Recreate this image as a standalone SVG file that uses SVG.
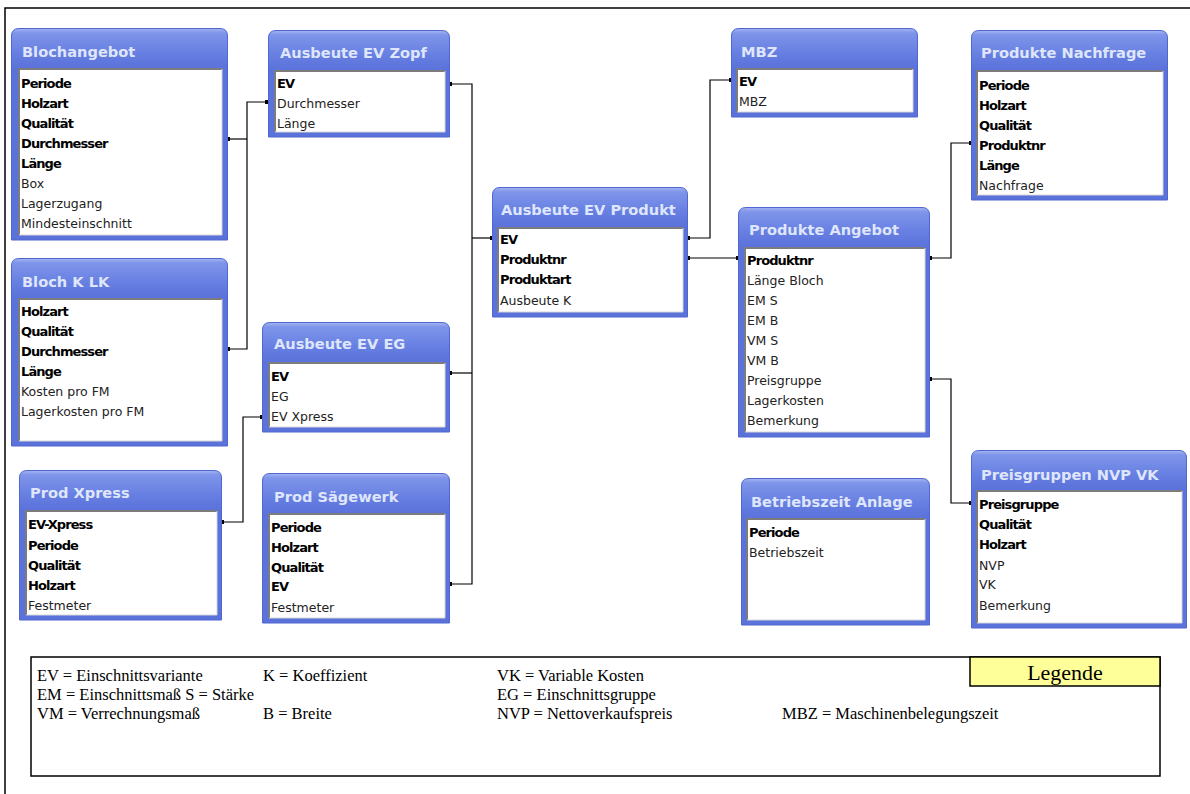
<svg xmlns="http://www.w3.org/2000/svg" width="1190" height="794" viewBox="0 0 1190 794">
  <defs>
    <linearGradient id="bar" gradientUnits="userSpaceOnUse" x1="0" y1="0" x2="0" y2="40">
      <stop offset="0" stop-color="#a9b9f3"/>
      <stop offset="0.12" stop-color="#7f95ea"/>
      <stop offset="0.6" stop-color="#6880e2"/>
      <stop offset="1" stop-color="#5a72da"/>
    </linearGradient>
    <marker id="dot" viewBox="0 0 4 4" refX="2" refY="2" markerWidth="4" markerHeight="4" markerUnits="userSpaceOnUse">
      <rect x="0" y="0" width="4" height="4" fill="#000"/>
    </marker>
  </defs>
  <style>
    .frame { fill: url(#bar); stroke: #4f67cf; stroke-width: 1; }
    .well { fill: #fff; }
    .shade { fill: none; stroke: #7c7c7c; stroke-width: 2; }
    .lite { fill: none; stroke: #d6d6d6; stroke-width: 1; }
    .title { font-family: "DejaVu Sans", Verdana, sans-serif; font-weight: bold; font-size: 14.6px; fill: #dfe6fb; }
    .k { font-family: "DejaVu Sans", Tahoma, sans-serif; font-weight: bold; font-size: 13px; letter-spacing: -0.9px; fill: #000; }
    .f { font-family: "DejaVu Sans", Tahoma, sans-serif; font-size: 12.5px; fill: #222; }
    .link { fill: none; stroke: #000; stroke-width: 1.2; }
    .legend { font-family: "Liberation Serif", "Times New Roman", serif; font-size: 16.5px; fill: #000; }
  </style>

  <!-- page border -->
  <path d="M5,794 V8 H1190" fill="none" stroke="#000" stroke-width="1.5"/>

  <!-- relationship lines -->
  <g id="connectors">
    <path class="link" d="M267,102 H247 V349 H228" marker-start="url(#dot)" marker-end="url(#dot)"/>
    <path class="link" d="M228,139 H247" marker-start="url(#dot)"/>
    <path class="link" d="M450,84 H472 V584 H450" marker-start="url(#dot)" marker-end="url(#dot)"/>
    <path class="link" d="M450,373 H472" marker-start="url(#dot)"/>
    <path class="link" d="M472,238 H492" marker-end="url(#dot)"/>
    <path class="link" d="M262,417 H243 V522 H222" marker-start="url(#dot)" marker-end="url(#dot)"/>
    <path class="link" d="M688,238 H710 V80 H731" marker-start="url(#dot)" marker-end="url(#dot)"/>
    <path class="link" d="M688,258 H738" marker-start="url(#dot)" marker-end="url(#dot)"/>
    <path class="link" d="M930,258 H951 V143 H971" marker-start="url(#dot)" marker-end="url(#dot)"/>
    <path class="link" d="M930,379 H951 V503 H971" marker-start="url(#dot)" marker-end="url(#dot)"/>
  </g>

  <!-- Blochangebot -->
  <g id="blochangebot" transform="translate(11,28)">
    <path class="frame" d="M0.5,212 V8 Q0.5,0.5 8,0.5 H209 Q216.5,0.5 216.5,8 V212 Z"/>
    <rect class="well" x="8" y="40" width="203" height="167"/>
    <path class="shade" d="M8,207 V41 H211"/>
    <path class="lite" d="M211,41 V207 H8"/>
    <text class="title" x="11" y="29">Blochangebot</text>
    <text class="k" x="10" y="60">Periode</text>
    <text class="k" x="10" y="80">Holzart</text>
    <text class="k" x="10" y="100">Qualität</text>
    <text class="k" x="10" y="120">Durchmesser</text>
    <text class="k" x="10" y="140">Länge</text>
    <text class="f" x="10" y="160">Box</text>
    <text class="f" x="10" y="180">Lagerzugang</text>
    <text class="f" x="10" y="200">Mindesteinschnitt</text>
  </g>

  <!-- Ausbeute EV Zopf -->
  <g id="ausbeute-ev-zopf" transform="translate(268,30)">
    <path class="frame" d="M0.5,107 V8 Q0.5,0.5 8,0.5 H174 Q181.5,0.5 181.5,8 V107 Z"/>
    <rect class="well" x="7" y="40" width="170" height="62"/>
    <path class="shade" d="M7,102 V41 H177"/>
    <path class="lite" d="M177,41 V102 H7"/>
    <text class="title" x="12" y="28">Ausbeute EV Zopf</text>
    <text class="k" x="9" y="58">EV</text>
    <text class="f" x="9" y="78">Durchmesser</text>
    <text class="f" x="9" y="98">Länge</text>
  </g>

  <!-- Bloch K LK -->
  <g id="bloch-k-lk" transform="translate(11,258)">
    <path class="frame" d="M0.5,188 V8 Q0.5,0.5 8,0.5 H209 Q216.5,0.5 216.5,8 V188 Z"/>
    <rect class="well" x="8" y="40" width="203" height="143"/>
    <path class="shade" d="M8,183 V41 H211"/>
    <path class="lite" d="M211,41 V183 H8"/>
    <text class="title" x="11" y="29">Bloch K LK</text>
    <text class="k" x="10" y="58">Holzart</text>
    <text class="k" x="10" y="78">Qualität</text>
    <text class="k" x="10" y="98">Durchmesser</text>
    <text class="k" x="10" y="118">Länge</text>
    <text class="f" x="10" y="138">Kosten pro FM</text>
    <text class="f" x="10" y="158">Lagerkosten pro FM</text>
  </g>

  <!-- Ausbeute EV EG -->
  <g id="ausbeute-ev-eg" transform="translate(262,322)">
    <path class="frame" d="M0.5,110 V8 Q0.5,0.5 8,0.5 H180 Q187.5,0.5 187.5,8 V110 Z"/>
    <rect class="well" x="7" y="40" width="176" height="65"/>
    <path class="shade" d="M7,105 V41 H183"/>
    <path class="lite" d="M183,41 V105 H7"/>
    <text class="title" x="12" y="27">Ausbeute EV EG</text>
    <text class="k" x="9" y="59">EV</text>
    <text class="f" x="9" y="79">EG</text>
    <text class="f" x="9" y="99">EV Xpress</text>
  </g>

  <!-- Prod Xpress -->
  <g id="prod-xpress" transform="translate(19,470)">
    <path class="frame" d="M0.5,150 V8 Q0.5,0.5 8,0.5 H195 Q202.5,0.5 202.5,8 V150 Z"/>
    <rect class="well" x="7" y="40" width="191" height="105"/>
    <path class="shade" d="M7,145 V41 H198"/>
    <path class="lite" d="M198,41 V145 H7"/>
    <text class="title" x="11" y="28">Prod Xpress</text>
    <text class="k" x="9" y="59">EV-Xpress</text>
    <text class="k" x="9" y="80">Periode</text>
    <text class="k" x="9" y="100">Qualität</text>
    <text class="k" x="9" y="120">Holzart</text>
    <text class="f" x="9" y="140">Festmeter</text>
  </g>

  <!-- Prod Sägewerk -->
  <g id="prod-saegewerk" transform="translate(262,473)">
    <path class="frame" d="M0.5,150 V8 Q0.5,0.5 8,0.5 H180 Q187.5,0.5 187.5,8 V150 Z"/>
    <rect class="well" x="7" y="40" width="176" height="105"/>
    <path class="shade" d="M7,145 V41 H183"/>
    <path class="lite" d="M183,41 V145 H7"/>
    <text class="title" x="12" y="29">Prod Sägewerk</text>
    <text class="k" x="9" y="59">Periode</text>
    <text class="k" x="9" y="79">Holzart</text>
    <text class="k" x="9" y="99">Qualität</text>
    <text class="k" x="9" y="118">EV</text>
    <text class="f" x="9" y="139">Festmeter</text>
  </g>

  <!-- Ausbeute EV Produkt -->
  <g id="ausbeute-ev-produkt" transform="translate(492,187)">
    <path class="frame" d="M0.5,130 V8 Q0.5,0.5 8,0.5 H188 Q195.5,0.5 195.5,8 V130 Z"/>
    <rect class="well" x="6" y="40" width="185" height="85"/>
    <path class="shade" d="M6,125 V41 H191"/>
    <path class="lite" d="M191,41 V125 H6"/>
    <text class="title" x="9" y="28">Ausbeute EV Produkt</text>
    <text class="k" x="8" y="57">EV</text>
    <text class="k" x="8" y="77">Produktnr</text>
    <text class="k" x="8" y="97">Produktart</text>
    <text class="f" x="8" y="118">Ausbeute K</text>
  </g>

  <!-- MBZ -->
  <g id="mbz" transform="translate(731,28)">
    <path class="frame" d="M0.5,89 V8 Q0.5,0.5 8,0.5 H179 Q186.5,0.5 186.5,8 V89 Z"/>
    <rect class="well" x="6" y="40" width="176" height="44"/>
    <path class="shade" d="M6,84 V41 H182"/>
    <path class="lite" d="M182,41 V84 H6"/>
    <text class="title" x="10" y="29">MBZ</text>
    <text class="k" x="8" y="58">EV</text>
    <text class="f" x="8" y="78">MBZ</text>
  </g>

  <!-- Produkte Angebot -->
  <g id="produkte-angebot" transform="translate(738,207)">
    <path class="frame" d="M0.5,230 V8 Q0.5,0.5 8,0.5 H184 Q191.5,0.5 191.5,8 V230 Z"/>
    <rect class="well" x="7" y="40" width="180" height="185"/>
    <path class="shade" d="M7,225 V41 H187"/>
    <path class="lite" d="M187,41 V225 H7"/>
    <text class="title" x="11" y="28">Produkte Angebot</text>
    <text class="k" x="9" y="58">Produktnr</text>
    <text class="f" x="9" y="78">Länge Bloch</text>
    <text class="f" x="9" y="98">EM S</text>
    <text class="f" x="9" y="118">EM B</text>
    <text class="f" x="9" y="138">VM S</text>
    <text class="f" x="9" y="158">VM B</text>
    <text class="f" x="9" y="178">Preisgruppe</text>
    <text class="f" x="9" y="198">Lagerkosten</text>
    <text class="f" x="9" y="218">Bemerkung</text>
  </g>

  <!-- Produkte Nachfrage -->
  <g id="produkte-nachfrage" transform="translate(971,30)">
    <path class="frame" d="M0.5,170 V8 Q0.5,0.5 8,0.5 H189 Q196.5,0.5 196.5,8 V170 Z"/>
    <rect class="well" x="6" y="40" width="186" height="125"/>
    <path class="shade" d="M6,165 V41 H192"/>
    <path class="lite" d="M192,41 V165 H6"/>
    <text class="title" x="10" y="28">Produkte Nachfrage</text>
    <text class="k" x="8" y="60">Periode</text>
    <text class="k" x="8" y="80">Holzart</text>
    <text class="k" x="8" y="100">Qualität</text>
    <text class="k" x="8" y="120">Produktnr</text>
    <text class="k" x="8" y="140">Länge</text>
    <text class="f" x="8" y="160">Nachfrage</text>
  </g>

  <!-- Betriebszeit Anlage -->
  <g id="betriebszeit-anlage" transform="translate(741,478)">
    <path class="frame" d="M0.5,147 V8 Q0.5,0.5 8,0.5 H181 Q188.5,0.5 188.5,8 V147 Z"/>
    <rect class="well" x="6" y="40" width="178" height="102"/>
    <path class="shade" d="M6,142 V41 H184"/>
    <path class="lite" d="M184,41 V142 H6"/>
    <text class="title" x="10" y="29">Betriebszeit Anlage</text>
    <text class="k" x="8" y="59">Periode</text>
    <text class="f" x="8" y="79">Betriebszeit</text>
  </g>

  <!-- Preisgruppen NVP VK -->
  <g id="preisgruppen-nvp-vk" transform="translate(971,450)">
    <path class="frame" d="M0.5,178 V8 Q0.5,0.5 8,0.5 H208 Q215.5,0.5 215.5,8 V178 Z"/>
    <rect class="well" x="6" y="40" width="205" height="133"/>
    <path class="shade" d="M6,173 V41 H211"/>
    <path class="lite" d="M211,41 V173 H6"/>
    <text class="title" x="10" y="30">Preisgruppen NVP VK</text>
    <text class="k" x="8" y="59">Preisgruppe</text>
    <text class="k" x="8" y="79">Qualität</text>
    <text class="k" x="8" y="99">Holzart</text>
    <text class="f" x="8" y="120">NVP</text>
    <text class="f" x="8" y="139">VK</text>
    <text class="f" x="8" y="160">Bemerkung</text>
  </g>

  <!-- legend -->
  <g id="legend">
    <rect x="31" y="657" width="1129" height="119" fill="#fff" stroke="#000" stroke-width="1.5"/>
    <rect x="970" y="657" width="190" height="29" fill="#ffff99" stroke="#000" stroke-width="1.5"/>
    <text x="1065" y="680" text-anchor="middle" font-family="Liberation Serif, Times New Roman, serif" font-size="22px">Legende</text>
    <text class="legend" x="37" y="681">EV = Einschnittsvariante</text>
    <text class="legend" x="263" y="681">K = Koeffizient</text>
    <text class="legend" x="497" y="681">VK = Variable Kosten</text>
    <text class="legend" x="37" y="700">EM = Einschnittsmaß S = Stärke</text>
    <text class="legend" x="497" y="700">EG = Einschnittsgruppe</text>
    <text class="legend" x="37" y="719">VM = Verrechnungsmaß</text>
    <text class="legend" x="263" y="719">B = Breite</text>
    <text class="legend" x="497" y="719">NVP = Nettoverkaufspreis</text>
    <text class="legend" x="782" y="719">MBZ = Maschinenbelegungszeit</text>
  </g>
</svg>
